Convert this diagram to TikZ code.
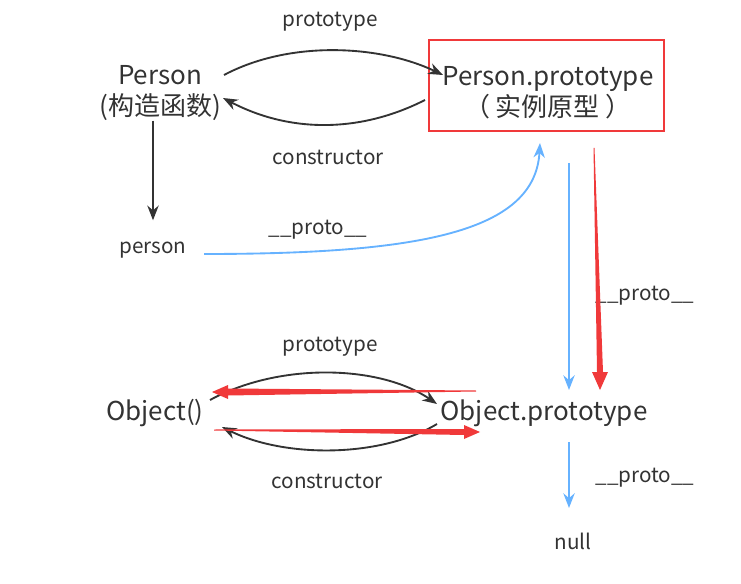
\documentclass[tikz,border=0pt]{standalone}
\usepackage{fontspec}
\setmainfont{Noto Sans CJK SC}
\usetikzlibrary{arrows.meta}
\definecolor{txtgray}{HTML}{333333}
\definecolor{protoblue}{HTML}{66B2FF}
\definecolor{markred}{HTML}{F0393A}

\begin{document}
\begin{tikzpicture}[x=0.75pt,y=-0.75pt,
  every node/.style={text=txtgray, inner sep=2pt},
  bigtxt/.style={font=\fontsize{19.5}{23.5}\selectfont, align=center},
  smalltxt/.style={font=\fontsize{15.5}{18}\selectfont},
  link/.style={draw=txtgray, line width=1.4pt, -{Stealth[length=11pt,width=8.5pt]}},
  protolink/.style={draw=protoblue, line width=1.4pt, -{Stealth[length=11pt,width=8.5pt]}},
  redwedge/.style={fill=markred, draw=none}]
  \useasboundingbox (0,0) rectangle (741,584);

  % Objects
  \node[bigtxt] (pc) at (160,93) {Person\\(构造函数)};
  \node[bigtxt] (pp) at (548,93) {Person.prototype\\（ 实例原型 ）};
  \draw[markred, line width=1.5pt] ([xshift=-89.25pt,yshift=39.75pt]pp.center)
    rectangle ([xshift=87pt,yshift=-28.5pt]pp.center);
  \node[smalltxt] (per) at (153,250) {person};
  \node[bigtxt] (oc) at (155,413) {Object()};
  \node[bigtxt] (op) at (544,413) {Object.prototype};
  \node[smalltxt] (nul) at (573,541) {null};

  % Labels
  \node[smalltxt] (lbpt) at (330,22) {prototype};
  \node[smalltxt] (lbpc) at (328,157) {constructor};
  \node[smalltxt] (lbpp) at (318,230) {\_\_proto\_\_};
  \node[smalltxt] (lbrp) at (645,296) {\_\_proto\_\_};
  \node[smalltxt] (lbot) at (330,347) {prototype};
  \node[smalltxt] (lboc) at (327,481) {constructor};
  \node[smalltxt] (lbop) at (645,478) {\_\_proto\_\_};

  % Connector ends
  \coordinate (pc-r1) at (224,75);  \coordinate (pp-l1) at (443,75);
  \coordinate (pp-l2) at (425,100); \coordinate (pc-r2) at (223,98);
  \coordinate (oc-r1) at (210,400); \coordinate (op-l1) at (437,404);
  \coordinate (op-l2) at (437,424); \coordinate (oc-r2) at (222,427);
  \coordinate (per-r) at (204,254); \coordinate (pp-b1) at (540,143);
  \coordinate (pp-b2) at (569,163); \coordinate (op-t) at (569,390);
  \coordinate (op-b) at (569,442);  \coordinate (nul-t) at (569,508);

  % Person <-> Person.prototype
  \draw[link] (pc-r1) .. controls (290,40) and (380,45) .. (pp-l1);
  \draw[link] (pp-l2) .. controls (360,133) and (290,133) .. (pc-r2);
  \draw[link] (pc.south -| per.north) ++(0,-3) -- ([yshift=14pt]per.north);

  % __proto__ chain
  \draw[protolink] (per-r) .. controls (420,254) and (535,232) .. (pp-b1);
  \draw[protolink] (pp-b2) -- (op-t);
  \draw[protolink] (op-b) -- (nul-t);

  % Object() <-> Object.prototype
  \draw[link] (oc-r1) .. controls (280,362) and (380,365) .. (op-l1);
  \draw[link] (op-l2) .. controls (380,458) and (285,458) .. (oc-r2);

  % Red marks
  \fill[redwedge] (593.5,148) -- (597,372) -- (592,372) -- (600,390) -- (608,372)
    -- (603,372) -- (594.5,148) -- cycle;
  \fill[redwedge] (476,390.5) -- (228,388.5) -- (228,385) -- (212,392) -- (228,399)
    -- (228,395.5) -- (476,391.5) -- cycle;
  \fill[redwedge] (214,429.5) -- (464,429) -- (464,425) -- (480,432) -- (464,439)
    -- (464,435) -- (214,430.5) -- cycle;
\end{tikzpicture}
\end{document}
